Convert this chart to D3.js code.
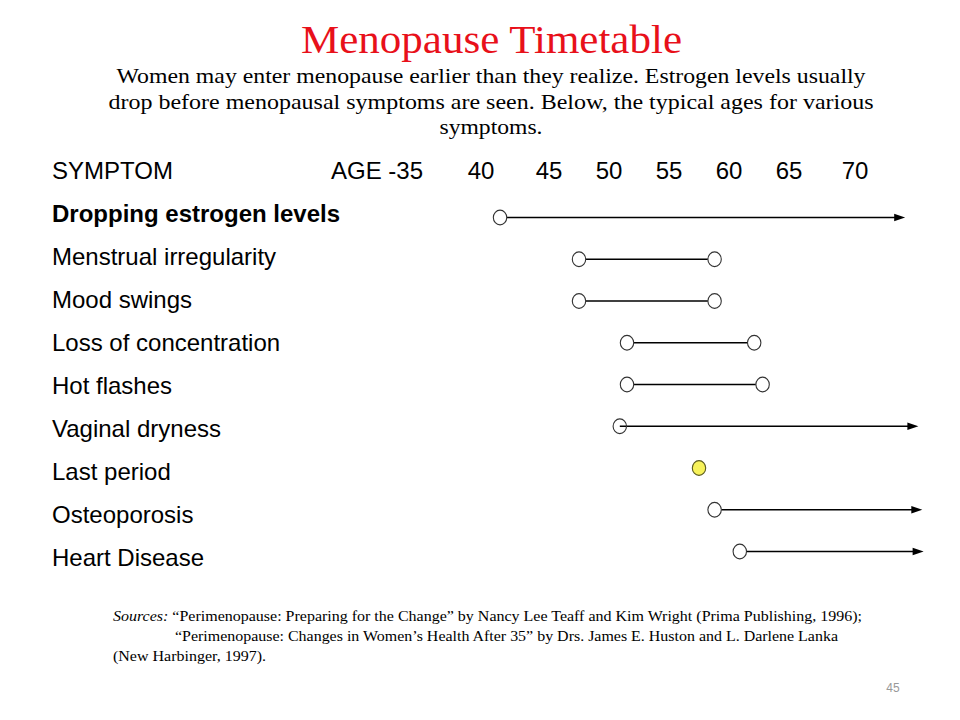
<!DOCTYPE html>
<html>
<head>
<meta charset="utf-8">
<script src="https://cdn.jsdelivr.net/npm/d3@7"></script>
<style>
  html, body { margin: 0; padding: 0; background: #fff; }
</style>
</head>
<body>
<script>
// ---- data ----
const symptoms = [
  "Dropping estrogen levels",
  "Menstrual irregularity",
  "Mood swings",
  "Loss of concentration",
  "Hot flashes",
  "Vaginal dryness",
  "Last period",
  "Osteoporosis",
  "Heart Disease"
];
const boldRow = [true, false, false, false, false, false, false, false, false];
const startAge = [41.4, 47.5, 47.5, 51.5, 51.5, 50.9, 57.5, 58.8, 60.9];
const endAge   = [73.8, 58.8, 58.8, 62.1, 62.8, 74.8, null, 75.1, 75.2];
const endType  = ["arrow", "circle", "circle", "circle", "circle", "arrow", "none", "arrow", "arrow"];
const tickAges = [40, 45, 50, 55, 60, 65, 70];
const titleText = "Menopause Timetable";
const subtitleLines = [
  "Women may enter menopause earlier than they realize.  Estrogen levels usually",
  "drop before menopausal symptoms are seen.  Below, the typical ages for various",
  "symptoms."
];
const sourceLines = [
  "\u201CPerimenopause:  Preparing for the Change\u201D by Nancy Lee Teaff and Kim Wright (Prima Publishing, 1996);",
  "\u201CPerimenopause:  Changes in Women\u2019s Health After 35\u201D by Drs. James E. Huston and L. Darlene Lanka",
  "(New Harbinger, 1997)."
];
const pageNumber = "45";

// ---- drawing ----
const W = 960, H = 720;
const svg = d3.select("body").append("svg").attr("width", W).attr("height", H);
svg.append("rect").attr("width", W).attr("height", H).attr("fill", "#fff");

const serif = "'Liberation Serif', 'DejaVu Serif', serif";
const sans = "'Liberation Sans', Arial, sans-serif";

// title
svg.append("text").attr("x", 491.5).attr("y", 52.5)
  .attr("text-anchor", "middle").attr("font-family", serif)
  .attr("font-size", 40).attr("fill", "#e8101a")
  .attr("textLength", 381).attr("lengthAdjust", "spacingAndGlyphs")
  .text(titleText);

// subtitle
const subY = [82.5, 108.5, 133.5];
const subLen = [749, 765, 103];
subtitleLines.forEach((t, i) => {
  svg.append("text").attr("x", 491).attr("y", subY[i])
    .attr("text-anchor", "middle").attr("font-family", serif)
    .attr("font-size", 21).attr("fill", "#000")
    .attr("textLength", subLen[i]).attr("lengthAdjust", "spacingAndGlyphs")
    .text(t);
});

// scales
const x = d3.scaleLinear().domain([40, 45, 65, 70]).range([481, 549, 789, 855]);
const yLabel = d3.scalePoint().domain(symptoms).range([221.5, 566]);
const yMark = d3.scalePoint().domain(symptoms).range([217.5, 551.5]);

const fs = 24;
const headerY = 179;
svg.append("text").attr("x", 52).attr("y", headerY)
  .attr("font-family", sans).attr("font-size", fs).text("SYMPTOM");
svg.append("text").attr("x", 331).attr("y", headerY)
  .attr("font-family", sans).attr("font-size", fs).text("AGE -35");
svg.append("g").selectAll("text").data(tickAges).join("text")
  .attr("x", d => x(d)).attr("y", headerY)
  .attr("text-anchor", "middle")
  .attr("font-family", sans).attr("font-size", fs)
  .text(d => d);

// row labels
svg.append("g").selectAll("text").data(symptoms).join("text")
  .attr("x", 52).attr("y", d => yLabel(d))
  .attr("font-family", sans).attr("font-size", fs)
  .attr("font-weight", (d, i) => boldRow[i] ? "bold" : "normal")
  .text(d => d);

// marks
const rx = 6.7, ry = 7.4;
const rows = symptoms.map((s, i) => ({ s, i, a: startAge[i], b: endAge[i], t: endType[i] }));
const g = svg.append("g");

rows.forEach(r => {
  const cy = yMark(r.s);
  const x0 = x(r.a);
  if (r.t === "circle") {
    const x1 = x(r.b);
    g.append("line").attr("x1", x0 + rx).attr("x2", x1 - rx)
      .attr("y1", cy).attr("y2", cy)
      .attr("stroke", "#000").attr("stroke-width", 1.3);
  } else if (r.t === "arrow") {
    const x1 = x(r.b);
    const startX = r.s === "Vaginal dryness" ? x0 : x0 + rx;
    g.append("line").attr("x1", startX).attr("x2", x1 - 9)
      .attr("y1", cy).attr("y2", cy)
      .attr("stroke", "#000").attr("stroke-width", 1.3);
    g.append("path")
      .attr("d", `M${x1},${cy} L${x1 - 11},${cy - 3.8} L${x1 - 11},${cy + 3.8} Z`)
      .attr("fill", "#000");
  }
});

rows.forEach(r => {
  const cy = yMark(r.s);
  const fill = r.t === "none" ? "#f7f25a" : "#fff";
  const stroke = r.t === "none" ? "#5a5a20" : "#333";
  g.append("ellipse").attr("cx", x(r.a)).attr("cy", cy).attr("rx", rx).attr("ry", ry)
    .attr("fill", r.s === "Vaginal dryness" ? "none" : fill)
    .attr("stroke", stroke).attr("stroke-width", 1.1);
  if (r.t === "circle") {
    g.append("ellipse").attr("cx", x(r.b)).attr("cy", cy).attr("rx", rx).attr("ry", ry)
      .attr("fill", "#fff").attr("stroke", "#333").attr("stroke-width", 1.1);
  }
});

// sources
const src = svg.append("text").attr("x", 113).attr("y", 621)
  .attr("font-family", serif).attr("font-size", 14)
  .attr("textLength", 749).attr("lengthAdjust", "spacingAndGlyphs");
src.append("tspan").attr("font-style", "italic").text("Sources:");
src.append("tspan").text(" " + sourceLines[0]);
svg.append("text").attr("x", 175).attr("y", 641)
  .attr("font-family", serif).attr("font-size", 14)
  .attr("textLength", 663).attr("lengthAdjust", "spacingAndGlyphs")
  .text(sourceLines[1]);
svg.append("text").attr("x", 113).attr("y", 661)
  .attr("font-family", serif).attr("font-size", 14)
  .attr("textLength", 153).attr("lengthAdjust", "spacingAndGlyphs")
  .text(sourceLines[2]);

// page number
svg.append("text").attr("x", 893).attr("y", 692).attr("text-anchor", "middle")
  .attr("font-family", sans).attr("font-size", 12).attr("fill", "#999")
  .text(pageNumber);
</script>
</body>
</html>
